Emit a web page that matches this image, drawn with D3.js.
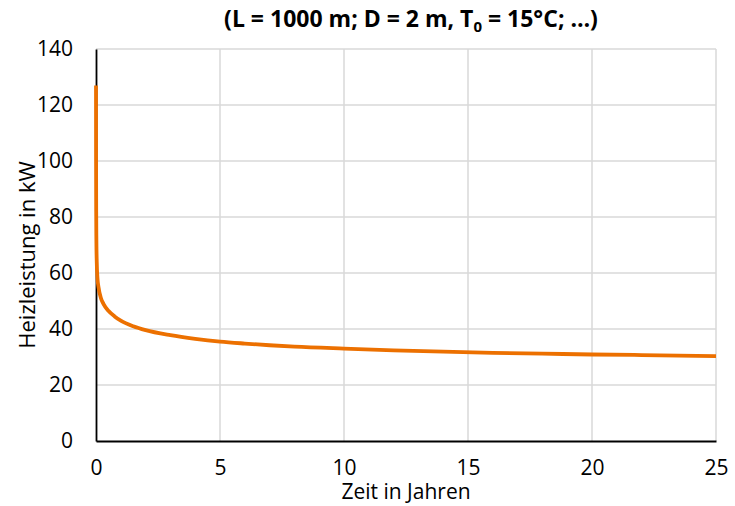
<!DOCTYPE html>
<html>
<head>
<meta charset="utf-8">
<script src="https://cdn.jsdelivr.net/npm/d3@7"></script>
<style>
  body { margin: 0; background: #fff; }
  text { font-family: "Open Sans", sans-serif; fill: #000; }
</style>
</head>
<body>
<div id="chart"></div>
<script>
// values
var years = [0, 0.003, 0.008, 0.015, 0.03, 0.06, 0.1, 0.2, 0.3, 0.5, 0.75, 1.0, 1.5, 2, 3, 4, 5, 6, 7, 8, 10, 12, 14, 16, 18, 20, 22, 25];
var power = [127, 100, 82, 72, 64, 58, 55, 51, 49, 46.5, 44.5, 43, 41, 39.6, 37.8, 36.5, 35.5, 34.8, 34.2, 33.7, 33.0, 32.4, 31.9, 31.5, 31.2, 30.9, 30.7, 30.3];
var xTicks = [0, 5, 10, 15, 20, 25];
var yTicks = [0, 20, 40, 60, 80, 100, 120, 140];

var w = 735, h = 506;
var plotLeft = 96, plotRight = 716, plotTop = 49, plotBottom = 441;

var svg = d3.select("#chart").append("svg")
  .attr("width", w)
  .attr("height", h);

var x = d3.scaleLinear().domain([0, 25]).range([plotLeft, plotRight]);
var y = d3.scaleLinear().domain([0, 140]).range([plotBottom, plotTop]);

// grid
svg.selectAll(".hgrid")
  .data(yTicks.slice(1))
  .enter().append("line")
  .attr("x1", plotLeft).attr("x2", plotRight)
  .attr("y1", function(d) { return y(d); })
  .attr("y2", function(d) { return y(d); })
  .attr("stroke", "#d9d9d9").attr("stroke-width", 1.5);

svg.selectAll(".vgrid")
  .data(xTicks.slice(1))
  .enter().append("line")
  .attr("y1", plotTop).attr("y2", plotBottom)
  .attr("x1", function(d) { return x(d); })
  .attr("x2", function(d) { return x(d); })
  .attr("stroke", "#d9d9d9").attr("stroke-width", 1.5);

// axes
var yAxis = svg.append("g")
  .attr("transform", "translate(" + plotLeft + ",0)")
  .call(d3.axisLeft(y).tickValues(yTicks).tickSize(0).tickPadding(23));
var xAxis = svg.append("g")
  .attr("transform", "translate(0," + plotBottom + ")")
  .call(d3.axisBottom(x).tickValues(xTicks).tickSize(0).tickPadding(19));

[xAxis, yAxis].forEach(function(a) {
  a.select(".domain").attr("stroke", "#000").attr("stroke-width", 1.8);
  a.selectAll("text").attr("font-size", "21px").attr("font-family", "'Open Sans', sans-serif").attr("fill", "#000");
});

// curve
var pts = years.map(function(t, i) { return [t, power[i]]; });
var line = d3.line()
  .x(function(d) { return x(d[0]); })
  .y(function(d) { return y(d[1]); })
  .curve(d3.curveMonotoneX);

svg.append("path")
  .datum(pts)
  .attr("d", line)
  .attr("fill", "none")
  .attr("stroke", "#ec7000")
  .attr("stroke-width", 3.8)
  .attr("stroke-linejoin", "round");

// titles
var title = svg.append("text")
  .attr("x", 411).attr("y", 27)
  .attr("text-anchor", "middle")
  .attr("font-size", "23px")
  .attr("font-weight", "bold");
title.append("tspan").text("(L = 1000 m; D = 2 m, T");
title.append("tspan").text("0").attr("font-size", "15px").attr("dy", 5);
title.append("tspan").text(" = 15°C; …)").attr("dy", -5);

svg.append("text")
  .attr("x", 406).attr("y", 499)
  .attr("text-anchor", "middle")
  .attr("font-size", "21px")
  .text("Zeit in Jahren");

svg.append("text")
  .attr("transform", "translate(35,255) rotate(-90)")
  .attr("text-anchor", "middle")
  .attr("font-size", "22px")
  .text("Heizleistung in kW");
</script>
</body>
</html>
